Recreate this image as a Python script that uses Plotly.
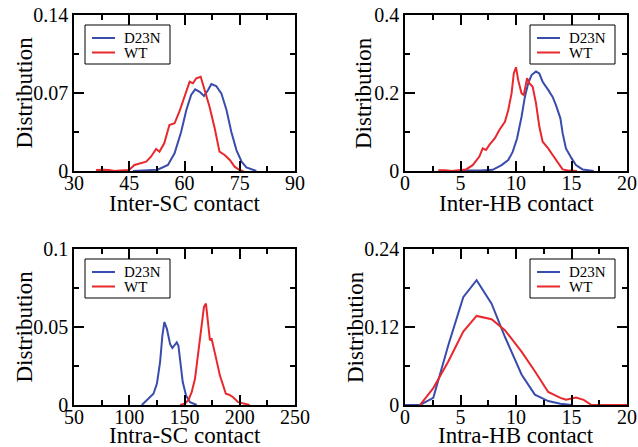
import plotly.graph_objects as go

# ---- Inter-SC contact distribution ----
sc_inter_d23n_x = [46, 48.2, 50.5, 52.7, 55.5, 57.3, 59.1, 60.5, 61.8, 62.9, 64.1, 65.3,
                   66.4, 67.3, 68.6, 70, 71.4, 72.7, 74.1, 75.5, 76.8, 78.6, 79.5]
sc_inter_d23n_y = [0, 0.0005, 0.0008, 0.0012, 0.0054, 0.0159, 0.0353, 0.0547, 0.0682, 0.0733,
                   0.0711, 0.0673, 0.0727, 0.0781, 0.0763, 0.0697, 0.0547, 0.0353, 0.0188,
                   0.0084, 0.0033, 0.001, 0]
sc_inter_wt_x = [36, 38, 39.5, 41, 43.5, 45, 46.4, 47.7, 49.6, 50.9, 52.3, 53.2, 54.5, 55.9,
                 57.3, 58.6, 60, 61.4, 62.3, 63.2, 64.4, 65.5, 66.8, 68.2, 69.5, 70.9, 72.3,
                 73.6, 75, 76]
sc_inter_wt_y = [0.0008, 0.0012, 0.0008, 0, 0.0006, 0.001, 0.0054, 0.0069, 0.0084, 0.0128,
                 0.0197, 0.0173, 0.0249, 0.0413, 0.0428, 0.0532, 0.0667, 0.0801, 0.0787,
                 0.0832, 0.0846, 0.0727, 0.0577, 0.0383, 0.0173, 0.0144, 0.0099, 0.0039,
                 0.0008, 0]

# ---- Inter-HB contact distribution ----
hb_inter_d23n_x = [5, 6.7, 7.9, 8.7, 9.3, 9.7, 10.1, 10.5, 10.8, 11.1, 11.4, 11.8, 12.1, 12.4,
                   12.9, 13.3, 13.6, 14.0, 14.2, 14.5, 15.0, 15.4, 16.0, 16.6, 17]
hb_inter_d23n_y = [0.001, 0.001, 0.003, 0.015, 0.028, 0.049, 0.084, 0.139, 0.19, 0.225, 0.246,
                   0.255, 0.25, 0.229, 0.208, 0.19, 0.169, 0.135, 0.097, 0.058, 0.033, 0.015,
                   0.004, 0.001, 0]
hb_inter_wt_x = [3, 3.6, 4.2, 4.8, 5.5, 6.1, 6.7, 7.0, 7.3, 7.6, 8.1, 8.5, 9.0, 9.3, 9.6, 9.8,
                 10.0, 10.2, 10.5, 10.7, 11.0, 11.2, 11.5, 11.8, 12.1, 12.4, 12.9, 13.3, 13.8,
                 14.2, 14.8, 15.5]
hb_inter_wt_y = [0.002, 0.002, 0, 0.002, 0.004, 0.015, 0.037, 0.058, 0.054, 0.067, 0.084,
                 0.105, 0.126, 0.156, 0.199, 0.25, 0.266, 0.233, 0.199, 0.195, 0.238, 0.225,
                 0.216, 0.174, 0.114, 0.075, 0.058, 0.041, 0.020, 0.004, 0.001, 0]

# ---- Intra-SC contact distribution ----
sc_intra_d23n_x = [111.4, 117.4, 121.9, 125, 127.9, 130, 131.8, 134, 137, 139, 141, 143,
                   144.5, 146, 148.4, 151.4, 155, 161]
sc_intra_d23n_y = [0, 0.004, 0.0072, 0.0136, 0.0275, 0.0447, 0.0532, 0.049, 0.039, 0.0365,
                   0.038, 0.0402, 0.038, 0.0275, 0.0147, 0.0061, 0.0018, 0]
sc_intra_wt_x = [146, 150.5, 153.4, 156.5, 159.5, 162.4, 165.5, 167.6, 169.4, 171.5, 173,
                 174.5, 176, 179, 182, 185, 187.4, 190.4, 194, 198.5, 204.5, 209]
sc_intra_wt_y = [0, 0.001, 0.003, 0.0082, 0.0168, 0.033, 0.0532, 0.0629, 0.065, 0.0511,
                 0.0415, 0.0426, 0.0383, 0.0286, 0.019, 0.0115, 0.0072, 0.0066, 0.005,
                 0.0018, 0.0008, 0]

# ---- Intra-HB contact distribution ----
hb_intra_d23n_x = [0, 1.35, 2.55, 3.9, 5.25, 6.45, 7.8, 9.0, 10.5, 11.7, 12.9, 14.0, 15]
hb_intra_d23n_y = [0, 0, 0.011, 0.092, 0.166, 0.192, 0.156, 0.105, 0.047, 0.016, 0.006,
                   0.002, 0]
hb_intra_wt_x = [1.35, 2.55, 3.9, 5.25, 6.45, 7.8, 9.0, 10.5, 11.7, 12.9, 14.0, 14.5, 15.4,
                 16.1, 16.8, 18, 20]
hb_intra_wt_y = [0, 0.026, 0.067, 0.113, 0.137, 0.132, 0.115, 0.082, 0.052, 0.02, 0.011,
                 0.008, 0.0115, 0.008, 0, 0, 0]

# Axis ticks (major with labels, minor unlabeled)
p1_xticks = [30, 45, 60, 75, 90]
p1_xminor = [37.5, 52.5, 67.5, 82.5]
p1_yticks = [0, 0.07, 0.14]
p1_ylabels = ["0", "0.07", "0.14"]
p1_yminor = [0.035, 0.105]

p2_xticks = [0, 5, 10, 15, 20]
p2_xminor = [2.5, 7.5, 12.5, 17.5]
p2_yticks = [0, 0.2, 0.4]
p2_ylabels = ["0", "0.2", "0.4"]
p2_yminor = [0.1, 0.3]

p3_xticks = [50, 100, 150, 200, 250]
p3_xminor = [75, 125, 175, 225]
p3_yticks = [0, 0.05, 0.1]
p3_ylabels = ["0", "0.05", "0.1"]
p3_yminor = [0.025, 0.075]

p4_xticks = [0, 5, 10, 15, 20]
p4_xminor = [2.5, 7.5, 12.5, 17.5]
p4_yticks = [0, 0.12, 0.24]
p4_ylabels = ["0", "0.12", "0.24"]
p4_yminor = [0.06, 0.18]

x_titles = ["Inter-SC contact", "Inter-HB contact", "Intra-SC contact", "Intra-HB contact"]
y_title = "Distribution"
series_names = ["D23N", "WT"]

BLUE = "#3a4cab"
RED = "#e8282c"
SERIF = "Liberation Serif"

panels = [
    (sc_inter_d23n_x, sc_inter_d23n_y, sc_inter_wt_x, sc_inter_wt_y),
    (hb_inter_d23n_x, hb_inter_d23n_y, hb_inter_wt_x, hb_inter_wt_y),
    (sc_intra_d23n_x, sc_intra_d23n_y, sc_intra_wt_x, sc_intra_wt_y),
    (hb_intra_d23n_x, hb_intra_d23n_y, hb_intra_wt_x, hb_intra_wt_y),
]
series_colors = [BLUE, RED]

fig = go.Figure()
for i, (bx, by, rx, ry) in enumerate(panels):
    n = "" if i == 0 else str(i + 1)
    for name, col, xs, ys in ((series_names[0], BLUE, bx, by), (series_names[1], RED, rx, ry)):
        fig.add_trace(go.Scatter(x=xs, y=ys, mode="lines", name=name, showlegend=False,
                                 line=dict(color=col, width=2),
                                 xaxis="x" + n, yaxis="y" + n))

W, H = 638, 447
# plot-area boxes in pixels: (left, right, top, bottom)
boxes = [(74, 295, 15, 171), (405, 627, 15, 171), (74, 295, 249, 405), (405, 627, 249, 405)]
# horizontal centre of each rotated y title, and top of each x title (pixels)
ytitle_x = [23.5, 363, 23.5, 355]
xtitle_top = [191, 191, 422.5, 422.5]
# legend box top-left corners in pixels
legend_corners = [(85, 25), (530, 25), (85, 259), (530, 259)]
LEG_W, LEG_H = 85, 39


def px(x):
    return x / W


def py(y):
    return 1 - y / H


axis_specs = [
    (p1_xticks, p1_xminor, p1_yticks, p1_ylabels, p1_yminor, [30, 90], [0, 0.14]),
    (p2_xticks, p2_xminor, p2_yticks, p2_ylabels, p2_yminor, [0, 20], [0, 0.4]),
    (p3_xticks, p3_xminor, p3_yticks, p3_ylabels, p3_yminor, [50, 250], [0, 0.1]),
    (p4_xticks, p4_xminor, p4_yticks, p4_ylabels, p4_yminor, [0, 20], [0, 0.24]),
]

common = dict(showline=True, linecolor="black", linewidth=1.5, mirror="allticks",
              ticks="inside", ticklen=10, tickwidth=1.5, tickcolor="black",
              showgrid=False, zeroline=False, automargin=False,
              tickfont=dict(family=SERIF, size=20, color="black"))
minor_style = dict(ticks="inside", ticklen=5, tickwidth=1.5, tickcolor="black")
title_font = dict(family=SERIF, size=23, color="black")

layout = dict(width=W, height=H, margin=dict(l=0, r=0, t=0, b=0),
              paper_bgcolor="white", plot_bgcolor="white",
              font=dict(family=SERIF, color="black"), showlegend=False)

shapes = []
annotations = []
for i, (xt, xm, yt, yl, ym, xr, yr) in enumerate(axis_specs):
    n = "" if i == 0 else str(i + 1)
    l, r, t, b = boxes[i]
    layout["xaxis" + n] = dict(
        domain=[px(l), px(r)], anchor="y" + n, range=xr, tickmode="array", tickvals=xt,
        ticktext=[str(v) for v in xt], ticklabelstandoff=-7,
        minor=dict(tickmode="array", tickvals=xm, **minor_style), **common)
    layout["yaxis" + n] = dict(
        domain=[py(b), py(t)], anchor="x" + n, range=yr, tickmode="array", tickvals=yt,
        ticktext=yl, minor=dict(tickmode="array", tickvals=ym, **minor_style), **common)

    # axis titles
    annotations.append(dict(text=x_titles[i], xref="paper", yref="paper",
                            x=px((l + r) / 2), y=py(xtitle_top[i]), xanchor="center",
                            yanchor="top", showarrow=False, borderpad=0, borderwidth=0,
                            font=title_font))
    annotations.append(dict(text=y_title, xref="paper", yref="paper", textangle=-90,
                            x=px(ytitle_x[i]), y=py((t + b) / 2), xanchor="center",
                            yanchor="middle", showarrow=False, borderpad=0, borderwidth=0,
                            font=title_font))

    # boxed legend in the upper part of each panel
    lx, ly = legend_corners[i]
    shapes.append(dict(type="rect", xref="paper", yref="paper",
                       x0=px(lx), x1=px(lx + LEG_W), y0=py(ly), y1=py(ly + LEG_H),
                       line=dict(color="black", width=1), fillcolor="white", layer="above"))
    for k, (name, col) in enumerate(zip(series_names, series_colors)):
        yy = ly + 13 + k * 14.5
        shapes.append(dict(type="line", xref="paper", yref="paper",
                           x0=px(lx + 7), x1=px(lx + 30), y0=py(yy), y1=py(yy),
                           line=dict(color=col, width=2), layer="above"))
        annotations.append(dict(text=name, xref="paper", yref="paper",
                                x=px(lx + 37), y=py(yy), xanchor="left", yanchor="middle",
                                showarrow=False,
                                font=dict(family=SERIF, size=15, color="black")))

layout["shapes"] = shapes
layout["annotations"] = annotations
fig.update_layout(**layout)
fig.write_html("out.html")
